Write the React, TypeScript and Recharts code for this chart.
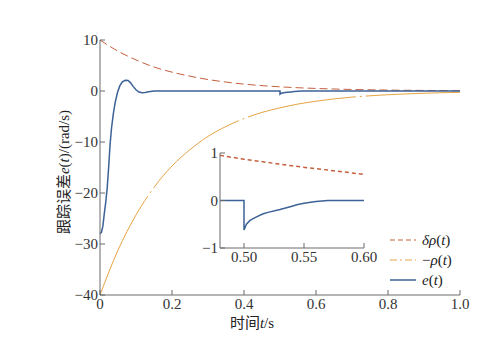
import { LineChart, Line, XAxis, YAxis } from 'recharts';

// main chart: prescribed performance bounds, sampled every 0.05 s
const rhoTime = [0, 0.05, 0.1, 0.15, 0.2, 0.25, 0.3, 0.35, 0.4, 0.45, 0.5, 0.55, 0.6, 0.65, 0.7, 0.75, 0.8, 0.85, 0.9, 0.95, 1.0];
const deltaRho = [10, 7.8, 6.1, 4.7, 3.7, 2.9, 2.25, 1.75, 1.35, 1.05, 0.82, 0.64, 0.5, 0.39, 0.3, 0.24, 0.18, 0.14, 0.11, 0.09, 0.07];
const negRho = [-40, -31.2, -24.3, -18.9, -14.7, -11.5, -8.9, -6.95, -5.4, -4.2, -3.3, -2.56, -2.0, -1.55, -1.2, -0.94, -0.73, -0.57, -0.44, -0.34, -0.27];

// tracking error e(t)
const errTime = [0, 0.004, 0.008, 0.012, 0.016, 0.02, 0.024, 0.028, 0.032, 0.037, 0.042, 0.049, 0.055, 0.062, 0.07, 0.078, 0.085, 0.092, 0.1, 0.108, 0.117, 0.125, 0.135, 0.15, 0.2, 0.5, 0.5, 0.503, 0.51, 0.52, 0.53, 0.54, 0.55, 0.56, 0.57, 0.6, 1.0];
const errValue = [-28, -27.7, -26.5, -24, -21.8, -19, -15, -10.5, -7.3, -4.5, -2.3, -0.2, 1.0, 1.8, 2.1, 2.05, 1.6, 0.9, 0.25, -0.2, -0.35, -0.3, -0.15, 0, 0, 0, -0.62, -0.45, -0.33, -0.25, -0.19, -0.12, -0.06, -0.02, 0, 0, 0];

// inset (zoom on 0.48..0.60)
const insetRhoTime = [0.48, 0.5, 0.52, 0.54, 0.56, 0.58, 0.6];
const insetDeltaRho = [0.95, 0.87, 0.8, 0.73, 0.67, 0.61, 0.55];
const insetErrTime = [0.48, 0.5, 0.5, 0.502, 0.505, 0.51, 0.516, 0.52, 0.53, 0.54, 0.544, 0.55, 0.557, 0.56, 0.57, 0.6];
const insetErrValue = [0, 0, -0.62, -0.5, -0.42, -0.35, -0.28, -0.25, -0.19, -0.12, -0.09, -0.06, -0.03, -0.02, 0, 0];

const xTicks = [0, 0.2, 0.4, 0.6, 0.8, 1.0];
const yTicks = [-40, -30, -20, -10, 0, 10];
const insetXTicks = [0.5, 0.55, 0.6];
const insetYTicks = [-1, 0, 1];

const RED = '#c4603f';
const ORANGE = '#e6a443';
const BLUE = '#3c6296';
const AXIS = '#6a6a6a';
const SERIF = "'Liberation Serif', 'Times New Roman', serif";
const CJK = "'Liberation Serif', 'Noto Sans CJK SC', serif";

const rhoData = rhoTime.map((t, i) => ({ t, dr: deltaRho[i], nr: negRho[i] }));
const errData = errTime.map((t, i) => ({ t, e: errValue[i] }));
const insetRhoData = insetRhoTime.map((t, i) => ({ t, dr: insetDeltaRho[i] }));
const insetErrData = insetErrTime.map((t, i) => ({ t, e: insetErrValue[i] }));

const fmtNum = (v: number, digits: number) => {
    const s = v === 0 ? '0' : v.toFixed(digits);
    return s.replace('-', '\u2212');
};

const makeXTick = (digits: number) => (props: any) => {
    const { x, y, payload } = props;
    return (
        <g>
            <line x1={x} y1={y} x2={x} y2={y - 5} stroke={AXIS} strokeWidth={1} />
            <text x={x} y={y + 14} textAnchor="middle" fill="#333" fontSize={15} style={{ fontFamily: SERIF }}>
                {fmtNum(payload.value, digits)}
            </text>
        </g>
    );
};

const makeYTick = (props: any) => {
    const { x, y, payload } = props;
    return (
        <g>
            <line x1={x} y1={y} x2={x + 5} y2={y} stroke={AXIS} strokeWidth={1} />
            <text x={x - 2} y={y + 5} textAnchor="end" fill="#333" fontSize={15} style={{ fontFamily: SERIF }}>
                {fmtNum(payload.value, 0)}
            </text>
        </g>
    );
};

const legendItems = [
    { label: 'δρ', prefix: '', color: RED, dash: '5 3' },
    { label: 'ρ', prefix: '\u2212', color: ORANGE, dash: '7 3 2 3' },
    { label: 'e', prefix: '', color: BLUE, dash: '' },
];

function LegendBox() {
    return (
        <div style={{ position: 'absolute', left: 390, top: 230, fontFamily: SERIF, fontSize: 15, color: '#222' }}>
            {legendItems.map((it) => (
                <div key={it.label} style={{ display: 'flex', alignItems: 'center', height: 20 }}>
                    <svg width={26} height={10} style={{ marginRight: 6 }}>
                        <line x1={0} y1={5} x2={26} y2={5} stroke={it.color} strokeWidth={it.dash ? 1 : 1.5} strokeDasharray={it.dash || undefined} />
                    </svg>
                    <span>
                        {it.prefix}
                        <i>{it.label}</i>(<i>t</i>)
                    </span>
                </div>
            ))}
        </div>
    );
}

export default function App() {
    return (
        <div style={{ position: 'absolute', left: 0, top: 0, width: 485, height: 352, background: '#fff' }}>
            <LineChart width={485} height={352} margin={{ top: 40, right: 25, bottom: 27, left: 60 }}>
                <XAxis
                    dataKey="t"
                    type="number"
                    domain={[0, 1]}
                    ticks={xTicks}
                    tickSize={0}
                    tickMargin={0}
                    height={30}
                    stroke={AXIS}
                    tick={makeXTick(1)}
                    allowDuplicatedCategory={false}
                />
                <YAxis
                    type="number"
                    domain={[-40, 10]}
                    ticks={yTicks}
                    tickSize={0}
                    tickMargin={0}
                    width={40}
                    stroke={AXIS}
                    tick={makeYTick}
                />
                <Line data={rhoData} dataKey="dr" type="monotone" stroke={RED} strokeWidth={1} strokeDasharray="8 4" dot={false} isAnimationActive={false} />
                <Line data={rhoData} dataKey="nr" type="monotone" stroke={ORANGE} strokeWidth={1} strokeDasharray="110 4 2 4" dot={false} isAnimationActive={false} />
                <Line data={errData} dataKey="e" type="linear" stroke={BLUE} strokeWidth={1.5} dot={false} isAnimationActive={false} />
            </LineChart>

            <div style={{ position: 'absolute', left: 180, top: 140 }}>
                <LineChart width={200} height={130} margin={{ top: 13, right: 16, bottom: 2, left: 20 }}>
                    <XAxis
                        dataKey="t"
                        type="number"
                        domain={[0.48, 0.6]}
                        ticks={insetXTicks}
                        tickSize={0}
                        tickMargin={0}
                        height={20}
                        stroke={AXIS}
                        tick={makeXTick(2)}
                        allowDuplicatedCategory={false}
                    />
                    <YAxis
                        type="number"
                        domain={[-1, 1]}
                        ticks={insetYTicks}
                        tickSize={0}
                        tickMargin={0}
                        width={20}
                        stroke={AXIS}
                        tick={makeYTick}
                    />
                    <Line data={insetRhoData} dataKey="dr" type="monotone" stroke={RED} strokeWidth={1.5} strokeDasharray="4 3" dot={false} isAnimationActive={false} />
                    <Line data={insetErrData} dataKey="e" type="linear" stroke={BLUE} strokeWidth={1.5} dot={false} isAnimationActive={false} />
                </LineChart>
            </div>

            <LegendBox />

            <div
                style={{
                    position: 'absolute',
                    left: 62,
                    top: 172,
                    transform: 'translate(-50%, -50%) rotate(-90deg)',
                    whiteSpace: 'nowrap',
                    fontFamily: CJK,
                    fontSize: 15,
                    color: '#222',
                }}
            >
                跟踪误差<i>e</i>(<i>t</i>)/(rad/s)
            </div>
            <div
                style={{
                    position: 'absolute',
                    left: 252,
                    top: 321,
                    transform: 'translate(-50%, -50%)',
                    whiteSpace: 'nowrap',
                    fontFamily: CJK,
                    fontSize: 15,
                    color: '#222',
                }}
            >
                时间<i>t</i>/s
            </div>
        </div>
    );
}
